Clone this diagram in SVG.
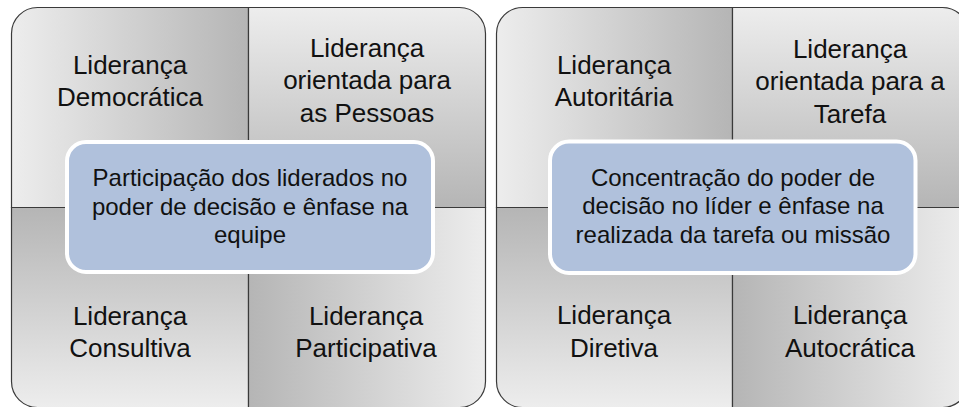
<svg xmlns="http://www.w3.org/2000/svg" width="959" height="407" viewBox="0 0 959 407">
  <defs>
    <linearGradient id="gH" x1="0" y1="0" x2="1" y2="0">
      <stop offset="0" stop-color="#ededed"/>
      <stop offset="1" stop-color="#b5b5b5"/>
    </linearGradient>
    <linearGradient id="gHr" x1="0" y1="0" x2="1" y2="0">
      <stop offset="0" stop-color="#b5b5b5"/>
      <stop offset="1" stop-color="#ededed"/>
    </linearGradient>
    <linearGradient id="gV" x1="0" y1="0" x2="0" y2="1">
      <stop offset="0" stop-color="#ededed"/>
      <stop offset="1" stop-color="#b5b5b5"/>
    </linearGradient>
    <linearGradient id="gVr" x1="0" y1="0" x2="0" y2="1">
      <stop offset="0" stop-color="#b5b5b5"/>
      <stop offset="1" stop-color="#ededed"/>
    </linearGradient>
  </defs>
  <style>
    .q { stroke: #3a3a3a; stroke-width: 1.2; }
    .c { fill: #b0c1dc; stroke: #ffffff; stroke-width: 4; }
    .t { font-family: "Liberation Sans", Arial, sans-serif; font-size: 26px; fill: #111111; text-anchor: middle; }
    .ct { font-family: "Liberation Sans", Arial, sans-serif; font-size: 24px; fill: #111111; text-anchor: middle; }
  </style>

  <g id="matrix-left">
    <g id="node-democratica">
      <path class="q" fill="url(#gH)" d="M11.5,207.5 V33.5 A26,26 0 0 1 37.5,7.5 H248.5 V207.5 Z"/>
      <text class="t" x="130" y="74">Liderança</text>
      <text class="t" x="130" y="106">Democrática</text>
    </g>
    <g id="node-pessoas">
      <path class="q" fill="url(#gV)" d="M248.5,7.5 H459.5 A26,26 0 0 1 485.5,33.5 V207.5 H248.5 Z"/>
      <text class="t" x="367" y="57">Liderança</text>
      <text class="t" x="367" y="89">orientada para</text>
      <text class="t" x="367" y="122">as Pessoas</text>
    </g>
    <g id="node-consultiva">
      <path class="q" fill="url(#gVr)" d="M11.5,207.5 H248.5 V407.5 H37.5 A26,26 0 0 1 11.5,381.5 Z"/>
      <text class="t" x="130" y="325">Liderança</text>
      <text class="t" x="130" y="357">Consultiva</text>
    </g>
    <g id="node-participativa">
      <path class="q" fill="url(#gHr)" d="M248.5,207.5 H485.5 V381.5 A26,26 0 0 1 459.5,407.5 H248.5 Z"/>
      <text class="t" x="366" y="325">Liderança</text>
      <text class="t" x="366" y="357">Participativa</text>
    </g>
    <g id="node-centro-esq">
      <rect class="c" x="67" y="142" width="366" height="130" rx="19"/>
      <text class="ct" x="250" y="186">Participação dos liderados no</text>
      <text class="ct" x="250" y="215">poder de decisão e ênfase na</text>
      <text class="ct" x="250" y="243">equipe</text>
    </g>
  </g>

  <g id="matrix-right">
    <g id="node-autoritaria">
      <path class="q" fill="url(#gH)" d="M496.5,207.5 V33.5 A26,26 0 0 1 522.5,7.5 H732.5 V207.5 Z"/>
      <text class="t" x="614" y="74">Liderança</text>
      <text class="t" x="614" y="106">Autoritária</text>
    </g>
    <g id="node-tarefa">
      <path class="q" fill="url(#gV)" d="M732.5,7.5 H942.5 A26,26 0 0 1 968.5,33.5 V207.5 H732.5 Z"/>
      <text class="t" x="850" y="58">Liderança</text>
      <text class="t" x="850" y="90">orientada para a</text>
      <text class="t" x="850" y="123">Tarefa</text>
    </g>
    <g id="node-diretiva">
      <path class="q" fill="url(#gVr)" d="M496.5,207.5 H732.5 V407.5 H522.5 A26,26 0 0 1 496.5,381.5 Z"/>
      <text class="t" x="614" y="324">Liderança</text>
      <text class="t" x="614" y="357">Diretiva</text>
    </g>
    <g id="node-autocratica">
      <path class="q" fill="url(#gHr)" d="M732.5,207.5 H968.5 V381.5 A26,26 0 0 1 942.5,407.5 H732.5 Z"/>
      <text class="t" x="850" y="324">Liderança</text>
      <text class="t" x="850" y="357">Autocrática</text>
    </g>
    <g id="node-centro-dir">
      <rect class="c" x="550" y="141.5" width="365.5" height="131.5" rx="19"/>
      <text class="ct" x="733" y="186">Concentração do poder de</text>
      <text class="ct" x="733" y="214">decisão no líder e ênfase na</text>
      <text class="ct" x="733" y="243">realizada da tarefa ou missão</text>
    </g>
  </g>

  <g id="connectors"></g>
</svg>
